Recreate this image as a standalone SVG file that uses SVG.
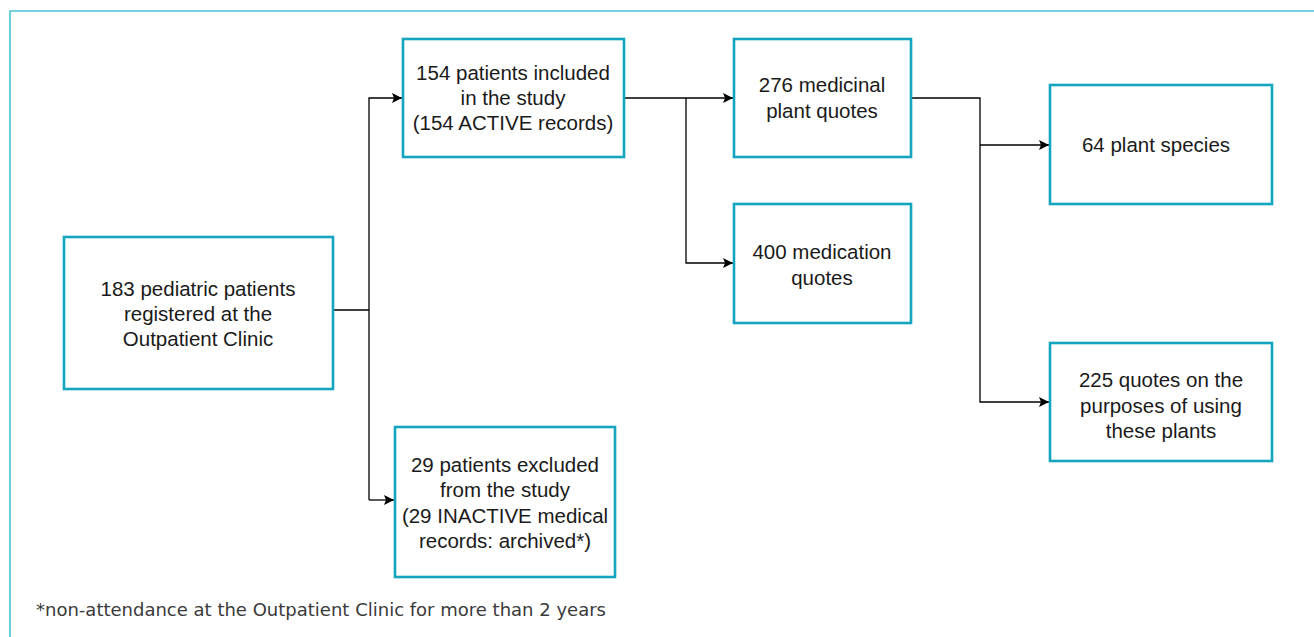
<svg xmlns="http://www.w3.org/2000/svg" width="1314" height="637" viewBox="0 0 1314 637">
<style>
.box{fill:#fff;stroke:#13a5bf;stroke-width:2.6}
.t{font-family:"Liberation Sans",Arial,sans-serif;font-size:20.5px;fill:#1a1a1a;text-anchor:middle}
.fn{font-family:"DejaVu Sans",sans-serif;font-size:17px;fill:#3a3a3a}
.c{fill:none;stroke:#000;stroke-width:1.3}
</style>
<defs>
<marker id="ah" viewBox="0 0 10 10" refX="10" refY="5" markerWidth="10" markerHeight="10" markerUnits="userSpaceOnUse" orient="auto">
<path d="M0,0 L10,5 L0,10 L2,5 Z" fill="#000"/>
</marker>
</defs>
<rect width="1314" height="637" fill="#fff"/>
<path d="M10,650 V11 H1320" fill="none" stroke="#4ec1d4" stroke-width="1.6"/>
<g id="connectors">
<path class="c" d="M333,310 H369"/>
<path class="c" d="M369,500 V98 H402" marker-end="url(#ah)"/>
<path class="c" d="M369,500 H394" marker-end="url(#ah)"/>
<path class="c" d="M624,98 H733" marker-end="url(#ah)"/>
<path class="c" d="M686,98 V263 H733" marker-end="url(#ah)"/>
<path class="c" d="M911,98 H980 V402 H1049" marker-end="url(#ah)"/>
<path class="c" d="M980,145 H1049" marker-end="url(#ah)"/>
</g>
<g id="node-183">
<rect class="box" x="64" y="237" width="269" height="152"/>
<text class="t" x="198" y="296">183 pediatric patients</text>
<text class="t" x="198" y="321">registered at the</text>
<text class="t" x="198" y="346">Outpatient Clinic</text>
</g>
<g id="node-154">
<rect class="box" x="403" y="39" width="221" height="118"/>
<text class="t" x="513" y="80">154 patients included</text>
<text class="t" x="513" y="105">in the study</text>
<text class="t" x="513" y="130">(154 ACTIVE records)</text>
</g>
<g id="node-29">
<rect class="box" x="395" y="427" width="220" height="150"/>
<text class="t" x="505" y="472">29 patients excluded</text>
<text class="t" x="505" y="497">from the study</text>
<text class="t" x="505" y="523">(29 INACTIVE medical</text>
<text class="t" x="505" y="548">records: archived*)</text>
</g>
<g id="node-276">
<rect class="box" x="734" y="39" width="177" height="118"/>
<text class="t" x="822" y="92">276 medicinal</text>
<text class="t" x="822" y="118">plant quotes</text>
</g>
<g id="node-400">
<rect class="box" x="734" y="204" width="177" height="119"/>
<text class="t" x="822" y="259">400 medication</text>
<text class="t" x="822" y="285">quotes</text>
</g>
<g id="node-64">
<rect class="box" x="1050" y="85" width="222" height="119"/>
<text class="t" x="1156" y="152">64 plant species</text>
</g>
<g id="node-225">
<rect class="box" x="1050" y="343" width="222" height="118"/>
<text class="t" x="1161" y="387">225 quotes on the</text>
<text class="t" x="1161" y="413">purposes of using</text>
<text class="t" x="1161" y="438">these plants</text>
</g>
<text class="fn" x="36" y="616" textLength="570" lengthAdjust="spacingAndGlyphs">*non-attendance at the Outpatient Clinic for more than 2 years</text>
</svg>
